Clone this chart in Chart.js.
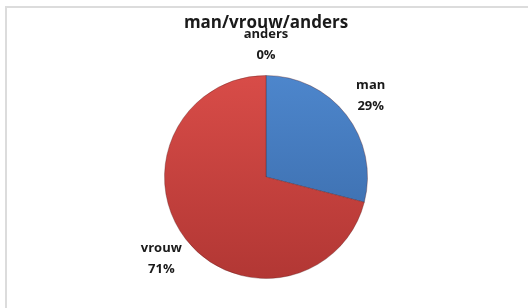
<!DOCTYPE html>
<html>
<head>
<meta charset="utf-8">
<script src="https://cdn.jsdelivr.net/npm/chart.js@4"></script>
<style>
  html, body { margin: 0; padding: 0; background: #fff; }
  #wrap { position: relative; width: 528px; height: 308px; }
  #frame { position: absolute; left: 5px; top: 6px; right: 0; bottom: 0;
           border-top: 2px solid #dcdcdc; border-left: 2px solid #dcdcdc; }
  canvas { position: absolute; left: 0; top: 0; }
</style>
</head>
<body>
<div id="wrap">
  <div id="frame"></div>
  <canvas id="chart" width="528" height="308"></canvas>
</div>
<script>
// data
const labels = ['man', 'vrouw', 'anders'];
const values = [29, 71, 0];
const colorsTop = ['#4d86cc', '#d84c48'];
const colorsBottom = ['#3868a6', '#b23734'];
const FONT = "'Open Sans', 'DejaVu Sans', sans-serif";

// slice fill with a soft top-to-bottom gradient
function sliceFill(ctx) {
  const chart = ctx.chart;
  const area = chart.chartArea;
  if (!area) return colorsTop[ctx.dataIndex] || '#999';
  const g = chart.ctx.createLinearGradient(0, area.top, 0, area.bottom);
  g.addColorStop(0, colorsTop[ctx.dataIndex] || '#999');
  g.addColorStop(1, colorsBottom[ctx.dataIndex] || '#777');
  return g;
}

// two-line labels outside each slice
const outsideLabels = {
  id: 'outsideLabels',
  afterDatasetsDraw(chart) {
    const c = chart.ctx;
    const meta = chart.getDatasetMeta(0);
    const total = values.reduce((a, b) => a + b, 0);
    c.save();
    c.font = 'bold 13px ' + FONT;
    c.fillStyle = '#1a1a1a';
    c.textAlign = 'center';
    c.textBaseline = 'middle';
    meta.data.forEach((arc, i) => {
      const mid = (arc.startAngle + arc.endAngle) / 2;
      const r = arc.outerRadius + 31;
      const x = arc.x + Math.cos(mid) * r;
      const y = arc.y + Math.sin(mid) * r;
      const pct = Math.round(values[i] / total * 100) + '%';
      c.fillText(labels[i], x, y - 10);
      c.fillText(pct, x, y + 11);
    });
    c.restore();
  }
};

new Chart(document.getElementById('chart'), {
  type: 'pie',
  data: {
    labels,
    datasets: [{
      data: values,
      backgroundColor: sliceFill,
      borderColor: 'rgba(90,30,30,0.35)',
      borderWidth: 1
    }]
  },
  options: {
    responsive: false,
    animation: false,
    layout: { padding: { left: 4, right: 0, top: 0, bottom: 29 } },
    plugins: {
      legend: { display: false },
      tooltip: { enabled: false },
      title: {
        display: true,
        text: 'man/vrouw/anders',
        color: '#1a1a1a',
        font: { family: FONT, size: 17, weight: 'bold', lineHeight: 1.2 },
        padding: { top: 13, bottom: 41.6 }
      }
    }
  },
  plugins: [outsideLabels]
});
</script>
</body>
</html>
